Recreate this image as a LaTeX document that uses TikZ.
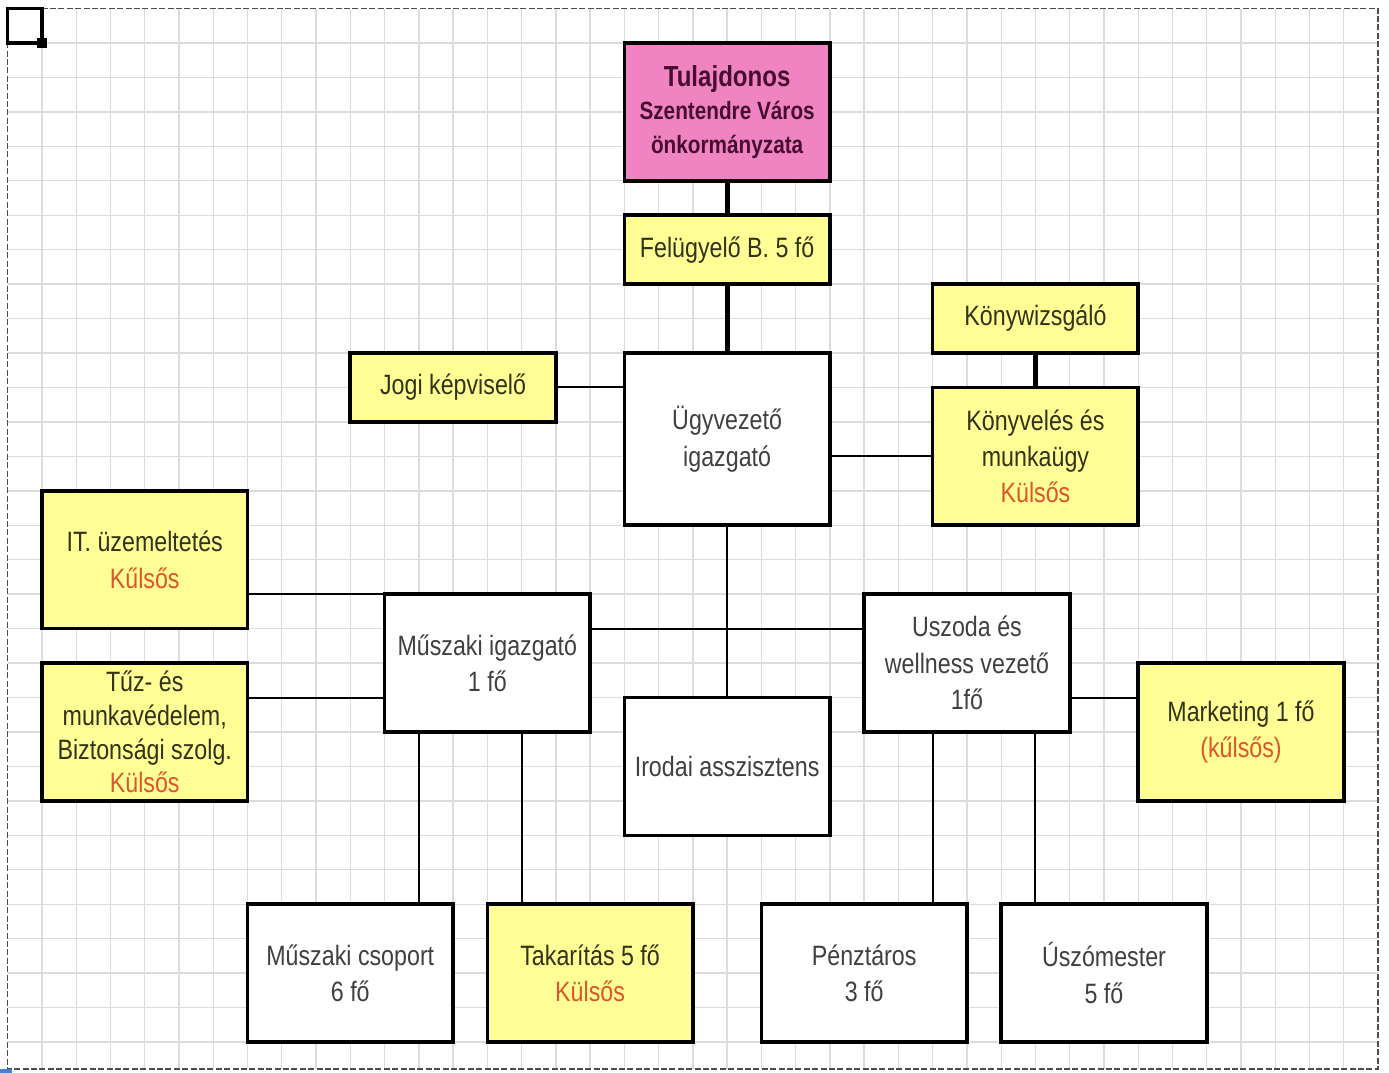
\documentclass[tikz,border=0pt]{standalone}
\usepackage{fontspec}
\setmainfont{Liberation Sans}[FakeStretch=0.83]
\usepackage{tikz}
\usetikzlibrary{positioning}

\definecolor{boxyellow}{RGB}{255,255,150}
\definecolor{boxpink}{RGB}{240,132,194}
\definecolor{ownertext}{RGB}{72,12,48}
\definecolor{extred}{RGB}{222,85,45}
\definecolor{gridgray}{RGB}{220,220,220}
\definecolor{marker}{RGB}{70,130,205}
\newcommand{\ext}[1]{\textcolor{extred}{#1}}

\begin{document}
\begin{tikzpicture}[x=17.13pt, y=-17.225pt, every node/.style={font=\fontsize{14}{18.2}\selectfont},
  box/.style={draw,line width=1.8pt,align=center,inner sep=0pt,outer sep=0pt,minimum width=102.78pt,minimum height=68.9pt},
  short/.style={minimum height=34.45pt},
  wbox/.style={box,fill=white,text=black!75},
  ybox/.style={box,fill=boxyellow,text={rgb,255:red,50;green,50;blue,22}},
  pbox/.style={box,fill=boxpink,text=ownertext,font=\fontsize{12.5}{16.75}\selectfont\bfseries},
  link/.style={line width=1pt},
  boldlink/.style={line width=2.4pt},
  gridline/.style={gridgray,line width=0.7pt},
  frame/.style={black!70,line width=0.7pt,dash pattern=on 3pt off 1.2pt}]
\useasboundingbox (-0.225,-0.248) rectangle (40.32,30.9);
% squared paper
\foreach \c in {1,...,39} \draw[gridline] (\c,0) -- (\c,30.78);
\foreach \r in {1,...,30} \draw[gridline] (0,\r) -- (40,\r);
\draw[frame] (0,0) rectangle (40,30.78);
\draw[line width=1.6pt] (0,0) rectangle (1,1);
\fill (1,1) ++(-2.3pt,-2.3pt) rectangle ++(4.6pt,4.6pt);
\fill[marker] (-0.225,30.78) rectangle (0.13,30.9);

% top of the organisation
\node[pbox] (owner) at (21,3) {{\fontsize{14.5}{17}\selectfont Tulajdonos}\\Szentendre Város\\önkormányzata};
\node[ybox,short,below=17.225pt of owner] (board) {Felügyelő B. 5 fő};
\node[wbox,minimum height=86.125pt,below=34.45pt of board] (ceo) {Ügyvezető\\igazgató};
\node[ybox,short] (legal) at (13,11) {Jogi képviselő};
\node[ybox,short] (auditor) at (30,9) {Könywizsgáló};
\node[ybox,below=17.225pt of auditor] (accounting) {Könyvelés és\\munkaügy\\\ext{Külsős}};

% middle level
\node[ybox] (it) at (4,16) {IT. üzemeltetés\\\ext{Kűlsős}};
\node[ybox,font=\fontsize{14}{16.9}\selectfont] (safety) at (4,21) {Tűz- és\\munkavédelem,\\Biztonsági szolg.\\\ext{Külsős}};
\node[wbox] (techdir) at (14,19) {Műszaki igazgató\\1 fő};
\node[wbox] (pooldir) at (28,19) {Uszoda és\\wellness vezető\\1fő};
\node[wbox] (office) at (21,22) {Irodai asszisztens};
\node[ybox] (marketing) at (36,21) {Marketing 1 fő\\\ext{(kűlsős)}};

% bottom row
\node[wbox] (techgroup) at (10,28) {Műszaki csoport\\6 fő};
\node[ybox] (cleaning) at (17,28) {Takarítás 5 fő\\\ext{Külsős}};
\node[wbox] (cashier) at (25,28) {Pénztáros\\3 fő};
\node[wbox] (lifeguard) at (32,28) {Úszómester\\5 fő};

\draw[boldlink] (owner)--(board); \draw[boldlink] (board)--(ceo); \draw[boldlink] (auditor)--(accounting);
\draw[link] (legal.east)--(legal.east -| ceo.west);
\draw[link] (accounting.west)--(accounting.west -| ceo.east);
\draw[link] (ceo)--(office);
\draw[link] (techdir.north west)--(techdir.north west -| it.east);
\draw[link] ([yshift=17.225pt]techdir.south west)--([yshift=17.225pt]techdir.south west -| safety.east);
\draw[link] ([yshift=17.225pt]techdir.east)--([yshift=17.225pt]pooldir.west);
\draw[link] ([yshift=-17.225pt]pooldir.east)--([yshift=-17.225pt]pooldir.east -| marketing.west);
\draw[link] ([xshift=-17.13pt]techgroup.north east)--([xshift=-17.13pt]techgroup.north east |- techdir.south);
\draw[link] ([xshift=17.13pt]cleaning.north west)--([xshift=17.13pt]cleaning.north west |- techdir.south);
\draw[link] ([xshift=-17.13pt]cashier.north east)--([xshift=-17.13pt]cashier.north east |- pooldir.south);
\draw[link] ([xshift=17.13pt]lifeguard.north west)--([xshift=17.13pt]lifeguard.north west |- pooldir.south);
\end{tikzpicture}
\end{document}
